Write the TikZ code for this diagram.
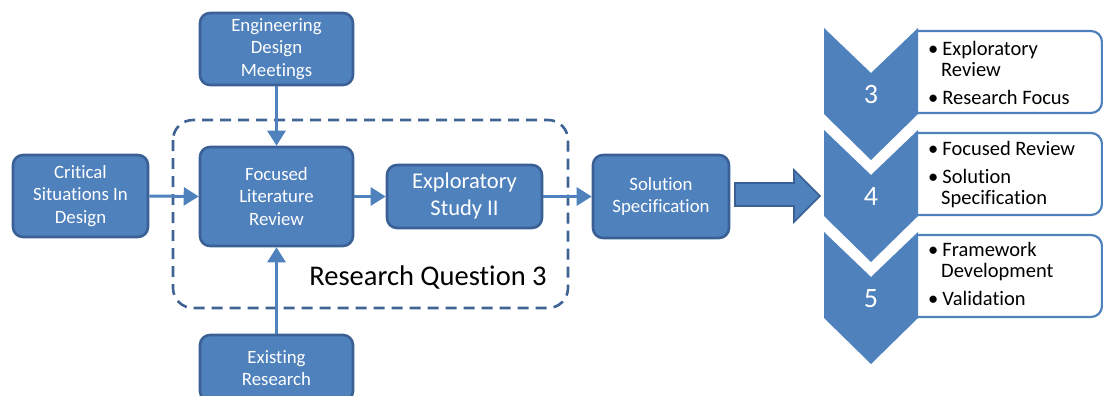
\documentclass[tikz,border=0pt]{standalone}
\usepackage{fontspec}
\setmainfont{Carlito}[Ligatures=NoCommon]
\usetikzlibrary{arrows.meta}
\definecolor{boxfill}{HTML}{4F81BD}
\definecolor{boxline}{HTML}{3A6096}
\definecolor{dashline}{HTML}{3F6494}
\tikzset{
  procbox/.style={draw=boxline, fill=boxfill, line width=2.6pt, rounded corners=10pt,
    text=white, align=center, inner sep=0pt, font=\fontsize{18.8}{22.8}\selectfont},
  flow/.style={draw=boxfill, line width=3pt, -{Triangle[length=15pt,width=18pt]}},
  chev/.style={fill=boxfill},
  listbox/.style={draw=boxfill, fill=white, line width=2.2pt},
  numlabel/.style={text=white, font=\fontsize{28}{28}\selectfont},
  bullets/.style={anchor=north west, align=left, inner sep=0pt, text=black,
    font=\fontsize{20.5}{21.5}\selectfont}
}
\begin{document}
\begin{tikzpicture}[x=1pt,y=-1pt]
\useasboundingbox (0,0) rectangle (1103,396);

% research question frame
\draw[dashline, line width=2.6pt, dash pattern=on 11pt off 7pt, rounded corners=20pt]
  (173,120) rectangle (568,308);
\node[font=\fontsize{28.5}{28.5}\selectfont] (rq) at (428,277) {Research Question 3};

% process boxes
\node[procbox, minimum width=153pt, minimum height=72pt] (eng) at (276.5,49) {Engineering\\Design\\Meetings};
\node[procbox, minimum width=135pt, minimum height=82pt] (crit) at (80.5,196) {Critical\\Situations In\\Design};
\node[procbox, minimum width=153pt, minimum height=99pt] (focus) at (276.5,196.5) {Focused\\Literature\\Review};
\node[procbox, minimum width=153pt, minimum height=66pt] (exist) at (276.5,368) {Existing\\Research};
\node[procbox, minimum width=155pt, minimum height=63pt, font=\fontsize{22.5}{27}\selectfont] (expl) at (464.5,196.5) {Exploratory\\Study II};
\node[procbox, minimum width=136pt, minimum height=83pt] (sol) at (661,196.5) {Solution\\Specification};

% connectors
\draw[flow] (eng.south) -- (focus.north);
\draw[flow] (exist.north) -- (focus.south);
\draw[flow] (crit.east) -- (focus.west);
\draw[flow] (focus.east) -- (expl.west);
\draw[flow] (expl.east) -- (sol.west);

% block arrow towards the chapter list
\coordinate (blk) at (735,194.5);
\draw[fill=boxfill, draw=boxline, line width=1.6pt, line join=miter]
  (blk) ++(0,-11.5) -- ++(59,0) -- ++(0,-13) -- (820,196) -- (794,222) -- (794,206) -- (735,206) -- cycle;

% chapter chevrons with their contents
\foreach \t/\n in {28/3, 130/4, 232/5} {
  \draw[listbox, rounded corners=11pt]
    (916,\t+3) -- (1102,\t+3) -- (1102,\t+85) -- (916,\t+85);
  \fill[chev] (824,\t) -- (871,\t+45) -- (918,\t) -- (918,\t+86)
    -- (871,\t+132) -- (824,\t+86) -- cycle;
  \node[numlabel] at (871,\t+67) {\n};
}

\node[bullets] (l3) at (928,41) {•\hspace{4pt}Exploratory\\\hspace{13pt}Review\\[6.5pt]•\hspace{4pt}Research Focus};
\node[bullets] (l4) at (928,141) {•\hspace{4pt}Focused Review\\[6.5pt]•\hspace{4pt}Solution\\\hspace{13pt}Specification};
\node[bullets] (l5) at (928,242) {•\hspace{4pt}Framework\\\hspace{13pt}Development\\[6.5pt]•\hspace{4pt}Validation};
\end{tikzpicture}
\end{document}
